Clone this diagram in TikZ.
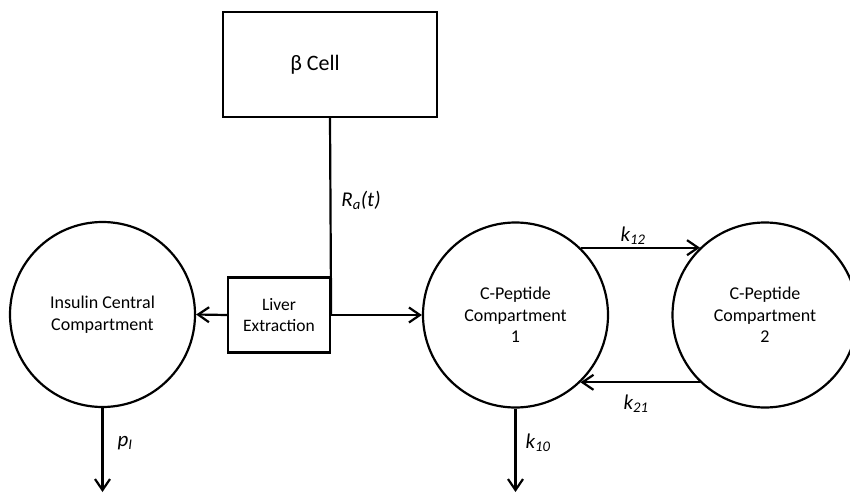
\documentclass[tikz,border=0pt]{standalone}
\usepackage{fontspec}
\setmainfont{Carlito}
\usetikzlibrary{arrows.meta}
\begin{document}
\begin{tikzpicture}[x=1pt,y=-1pt,
  line width=2.2pt,
  arr/.style={-{Straight Barb[length=11pt,width=15pt,line width=2.2pt]}},
  comp/.style={draw,circle,minimum size=185pt,inner sep=0pt,align=center,font=\fontsize{18}{21.5}\selectfont},
  boxn/.style={draw,rectangle,inner sep=0pt,align=center},
  lab/.style={inner sep=0pt,font=\fontsize{21}{24}\selectfont\itshape}]
\useasboundingbox (0,0) rectangle (850,494);
\node[boxn,minimum width=214pt,minimum height=105pt,font=\fontsize{22}{26}\selectfont] (beta) at (330,64.5) {β Cell\hspace{30pt}};
\node[boxn,minimum width=102pt,minimum height=75pt,font=\fontsize{17.5}{21}\selectfont] (liver) at (279,315) {Liver\\Extraction};
\node[comp] (ins) at (102.5,314.5) {Insulin Central\\Compartment};
\node[comp] (c1) at (515.5,315) {C-Peptide\\Compartment\\1};
\node[comp] (c2) at (765,315) {C-Peptide\\Compartment\\2};
\coordinate (insout) at (102.5,492);
\coordinate (c1out) at (515.5,492);
\draw (beta.south) -- (liver.east);
\draw[arr] (liver.east) -- (c1.west);
\draw[arr] (liver.west) -- (ins.east);
\draw[arr] (c1.46) -- (c2.134);
\draw[arr] (c2.-134) -- (c1.-46);
\draw[arr] (ins.south) -- (insout);
\draw[arr] (c1.south) -- (c1out);
\node[lab] (ra) at (361,200) {R\textsubscript{a}(t)};
\node[lab] (k12) at (633,236) {k\textsubscript{12}};
\node[lab] (k21) at (636,404) {k\textsubscript{21}};
\node[lab] (k10) at (538,443) {k\textsubscript{10}};
\node[lab] (pI) at (125,443) {p\textsubscript{I}};
\end{tikzpicture}
\end{document}
